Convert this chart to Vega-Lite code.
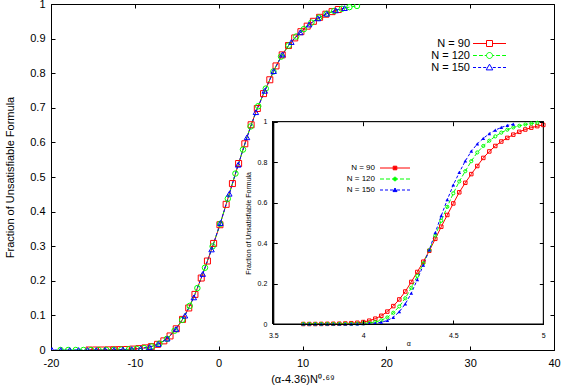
{
"$schema": "https://vega.github.io/schema/vega-lite/v6.json",
"width": 503, "height": 346,
"autosize": {"type": "none"},
"padding": {"left": 51, "top": 4, "right": 8, "bottom": 36},
"background": "white",
"config": {
 "view": {"stroke": "black", "strokeWidth": 1},
 "axis": {"grid": false, "domainColor": "black", "tickColor": "black", "labelColor": "black", "titleColor": "black", "labelFont": "Liberation Sans", "titleFont": "Liberation Sans", "titleFontWeight": "normal", "labelFlush": false, "labelOverlap": false, "tickSize": -4, "domainWidth": 1, "tickWidth": 1},
 "legend": {"padding": 0, "labelFont": "Liberation Sans", "labelColor": "black", "symbolStrokeWidth": 1, "labelAlign": "right"}
},
"datasets": {"d": [
{"N":"N = 90","a":3.6667,"x":-15.47,"f":0},{"N":"N = 90","a":3.7,"x":-14.72,"f":0},{"N":"N = 90","a":3.7333,"x":-13.98,"f":0},{"N":"N = 90","a":3.7667,"x":-13.23,"f":0.0004},{"N":"N = 90","a":3.8,"x":-12.49,"f":0.0008},{"N":"N = 90","a":3.8333,"x":-11.75,"f":0.0011},{"N":"N = 90","a":3.8667,"x":-11.0,"f":0.0015},{"N":"N = 90","a":3.9,"x":-10.26,"f":0.0026},{"N":"N = 90","a":3.9333,"x":-9.52,"f":0.004},{"N":"N = 90","a":3.9667,"x":-8.78,"f":0.0061},{"N":"N = 90","a":4.0,"x":-8.03,"f":0.0097},{"N":"N = 90","a":4.0333,"x":-7.29,"f":0.0164},{"N":"N = 90","a":4.0667,"x":-6.54,"f":0.0264},{"N":"N = 90","a":4.1,"x":-5.8,"f":0.0406},{"N":"N = 90","a":4.1333,"x":-5.06,"f":0.0613},{"N":"N = 90","a":4.1667,"x":-4.31,"f":0.0885},{"N":"N = 90","a":4.2,"x":-3.57,"f":0.1215},{"N":"N = 90","a":4.2333,"x":-2.83,"f":0.1607},{"N":"N = 90","a":4.2667,"x":-2.08,"f":0.208},{"N":"N = 90","a":4.3,"x":-1.34,"f":0.2572},{"N":"N = 90","a":4.3333,"x":-0.6,"f":0.308},{"N":"N = 90","a":4.3667,"x":0.15,"f":0.362},{"N":"N = 90","a":4.4,"x":0.89,"f":0.421},{"N":"N = 90","a":4.4333,"x":1.64,"f":0.481},{"N":"N = 90","a":4.4667,"x":2.38,"f":0.539},{"N":"N = 90","a":4.5,"x":3.12,"f":0.596},{"N":"N = 90","a":4.5333,"x":3.87,"f":0.651},{"N":"N = 90","a":4.5667,"x":4.61,"f":0.698},{"N":"N = 90","a":4.6,"x":5.35,"f":0.741},{"N":"N = 90","a":4.6333,"x":6.1,"f":0.781},{"N":"N = 90","a":4.6667,"x":6.84,"f":0.821},{"N":"N = 90","a":4.7,"x":7.58,"f":0.853},{"N":"N = 90","a":4.7333,"x":8.33,"f":0.88},{"N":"N = 90","a":4.7667,"x":9.07,"f":0.902},{"N":"N = 90","a":4.8,"x":9.81,"f":0.92},{"N":"N = 90","a":4.8333,"x":10.56,"f":0.936},{"N":"N = 90","a":4.8667,"x":11.3,"f":0.95},{"N":"N = 90","a":4.9,"x":12.04,"f":0.9615},{"N":"N = 90","a":4.9333,"x":12.79,"f":0.9705},{"N":"N = 90","a":4.9667,"x":13.53,"f":0.978},{"N":"N = 90","a":5.0,"x":14.27,"f":0.984},
{"N":"N = 120","a":3.6667,"x":-18.86,"f":0},{"N":"N = 120","a":3.7,"x":-17.95,"f":0},{"N":"N = 120","a":3.7333,"x":-17.05,"f":0},{"N":"N = 120","a":3.7667,"x":-16.14,"f":0},{"N":"N = 120","a":3.8,"x":-15.23,"f":0},{"N":"N = 120","a":3.8333,"x":-14.33,"f":0},{"N":"N = 120","a":3.8667,"x":-13.42,"f":0.0003},{"N":"N = 120","a":3.9,"x":-12.51,"f":0.0007},{"N":"N = 120","a":3.9333,"x":-11.61,"f":0.0012},{"N":"N = 120","a":3.9667,"x":-10.7,"f":0.002},{"N":"N = 120","a":4.0,"x":-9.79,"f":0.0034},{"N":"N = 120","a":4.0333,"x":-8.89,"f":0.0055},{"N":"N = 120","a":4.0667,"x":-7.98,"f":0.0102},{"N":"N = 120","a":4.1,"x":-7.07,"f":0.0184},{"N":"N = 120","a":4.1333,"x":-6.17,"f":0.0323},{"N":"N = 120","a":4.1667,"x":-5.26,"f":0.0557},{"N":"N = 120","a":4.2,"x":-4.35,"f":0.087},{"N":"N = 120","a":4.2333,"x":-3.45,"f":0.1275},{"N":"N = 120","a":4.2667,"x":-2.54,"f":0.179},{"N":"N = 120","a":4.3,"x":-1.63,"f":0.2378},{"N":"N = 120","a":4.3333,"x":-0.72,"f":0.2996},{"N":"N = 120","a":4.3667,"x":0.18,"f":0.3644},{"N":"N = 120","a":4.4,"x":1.09,"f":0.4372},{"N":"N = 120","a":4.4333,"x":2.0,"f":0.51},{"N":"N = 120","a":4.4667,"x":2.9,"f":0.5793},{"N":"N = 120","a":4.5,"x":3.81,"f":0.646},{"N":"N = 120","a":4.5333,"x":4.72,"f":0.7047},{"N":"N = 120","a":4.5667,"x":5.62,"f":0.7555},{"N":"N = 120","a":4.6,"x":6.53,"f":0.805},{"N":"N = 120","a":4.6333,"x":7.44,"f":0.848},{"N":"N = 120","a":4.6667,"x":8.34,"f":0.88},{"N":"N = 120","a":4.7,"x":9.25,"f":0.906},{"N":"N = 120","a":4.7333,"x":10.16,"f":0.9274},{"N":"N = 120","a":4.7667,"x":11.06,"f":0.946},{"N":"N = 120","a":4.8,"x":11.97,"f":0.9605},{"N":"N = 120","a":4.8333,"x":12.88,"f":0.9716},{"N":"N = 120","a":4.8667,"x":13.78,"f":0.98},{"N":"N = 120","a":4.9,"x":14.69,"f":0.9861},{"N":"N = 120","a":4.9333,"x":15.6,"f":0.991},{"N":"N = 120","a":4.9667,"x":16.5,"f":0.9945},
{"N":"N = 150","a":3.6667,"x":-22.0,"f":0},{"N":"N = 150","a":3.7,"x":-20.94,"f":0},{"N":"N = 150","a":3.7333,"x":-19.88,"f":0},{"N":"N = 150","a":3.7667,"x":-18.83,"f":0},{"N":"N = 150","a":3.8,"x":-17.77,"f":0},{"N":"N = 150","a":3.8333,"x":-16.71,"f":0},{"N":"N = 150","a":3.8667,"x":-15.65,"f":0},{"N":"N = 150","a":3.9,"x":-14.6,"f":0},{"N":"N = 150","a":3.9333,"x":-13.54,"f":0.0002},{"N":"N = 150","a":3.9667,"x":-12.48,"f":0.0008},{"N":"N = 150","a":4.0,"x":-11.42,"f":0.0013},{"N":"N = 150","a":4.0333,"x":-10.37,"f":0.0025},{"N":"N = 150","a":4.0667,"x":-9.31,"f":0.0044},{"N":"N = 150","a":4.1,"x":-8.25,"f":0.0087},{"N":"N = 150","a":4.1333,"x":-7.19,"f":0.0173},{"N":"N = 150","a":4.1667,"x":-6.13,"f":0.0329},{"N":"N = 150","a":4.2,"x":-5.08,"f":0.0608},{"N":"N = 150","a":4.2333,"x":-4.02,"f":0.0993},{"N":"N = 150","a":4.2667,"x":-2.96,"f":0.152},{"N":"N = 150","a":4.3,"x":-1.9,"f":0.2197},{"N":"N = 150","a":4.3333,"x":-0.85,"f":0.2905},{"N":"N = 150","a":4.3667,"x":0.21,"f":0.3668},{"N":"N = 150","a":4.4,"x":1.27,"f":0.4516},{"N":"N = 150","a":4.4333,"x":2.33,"f":0.5354},{"N":"N = 150","a":4.4667,"x":3.38,"f":0.6147},{"N":"N = 150","a":4.5,"x":4.44,"f":0.6873},{"N":"N = 150","a":4.5333,"x":5.5,"f":0.749},{"N":"N = 150","a":4.5667,"x":6.56,"f":0.806},{"N":"N = 150","a":4.6,"x":7.61,"f":0.854},{"N":"N = 150","a":4.6333,"x":8.67,"f":0.89},{"N":"N = 150","a":4.6667,"x":9.73,"f":0.918},{"N":"N = 150","a":4.7,"x":10.79,"f":0.9406},{"N":"N = 150","a":4.7333,"x":11.84,"f":0.9584},{"N":"N = 150","a":4.7667,"x":12.9,"f":0.9718},{"N":"N = 150","a":4.8,"x":13.96,"f":0.9816},{"N":"N = 150","a":4.8333,"x":15.02,"f":0.9881}
]},
"layer": [
 {
  "data": {"name": "d"},
  "encoding": {
   "x": {"field": "x", "type": "quantitative", "scale": {"domain": [-20, 40], "nice": false, "zero": false},
     "axis": {"orient": "bottom", "values": [-20,-10,0,10,20,30,40], "labelExpr": "'' + datum.value", "labelFontSize": 11, "labelPadding": 11, "title": "(α-4.36)N⁰·⁶⁹", "titleFontSize": 11, "titlePadding": 5}},
   "y": {"field": "f", "type": "quantitative", "scale": {"domain": [0, 1], "nice": false},
     "axis": {"orient": "left", "values": [0,0.1,0.2,0.3,0.4,0.5,0.6,0.7,0.8,0.9,1], "format": "~g", "labelFontSize": 11, "labelPadding": 10, "title": "Fraction of Unsatisfiable Formula", "titleFontSize": 11, "titlePadding": 14}},
   "color": {"field": "N", "type": "nominal", "scale": {"domain": ["N = 90", "N = 120", "N = 150"], "range": ["#ff0000", "#00ff00", "#0000ff"]},
     "legend": {"orient": "none", "legendX": 433, "legendY": 34, "title": null, "labelFontSize": 11, "symbolSize": 36, "rowPadding": 0, "labelOffset": -25, "symbolFillColor": "transparent", "symbolStrokeWidth": 1,
       "symbolType": {"expr": "datum.value === 'N = 90' ? 'M-5.5,0H-1M1,0H5.5M-1,-1H1V1H-1Z' : datum.value === 'N = 120' ? 'M-5.5,0H-4.2M-3.5,0H-2.2M-1.6,0H-1M1,0H1.6M2.2,0H3.5M4.2,0H5.5M1,0A1,1 0 1,1 -1,0A1,1 0 1,1 1,0Z' : 'M-5.5,0H-4.5M-3.8,0H-2.8M-2.1,0H-1.1M1.1,0H2.1M2.8,0H3.8M4.5,0H5.5M0,-1.1L1.1,0.8H-1.1Z'"}}}
  },
  "layer": [
   {"transform": [{"filter": "datum.N === 'N = 90'"}], "mark": {"type": "line", "clip": true, "strokeWidth": 1}},
   {"transform": [{"filter": "datum.N === 'N = 120'"}], "mark": {"type": "line", "clip": true, "strokeWidth": 1, "strokeDash": [4, 2]}},
   {"transform": [{"filter": "datum.N === 'N = 150'"}], "mark": {"type": "line", "clip": true, "strokeWidth": 1, "strokeDash": [3, 2]}},
   {"transform": [{"filter": "datum.N === 'N = 90'"}], "mark": {"type": "point", "shape": "square", "clip": true, "filled": false, "size": 36, "strokeWidth": 1, "opacity": 1}},
   {"transform": [{"filter": "datum.N === 'N = 120'"}], "mark": {"type": "point", "shape": "circle", "clip": true, "filled": false, "size": 30, "strokeWidth": 1, "opacity": 1}},
   {"transform": [{"filter": "datum.N === 'N = 150'"}], "mark": {"type": "point", "shape": "triangle-up", "clip": true, "filled": false, "size": 30, "strokeWidth": 1, "opacity": 1}}
  ]
 },
 {
  "data": {"name": "d"},
  "mark": {"type": "point", "opacity": 0},
  "encoding": {
   "x": {"field": "x", "type": "quantitative", "scale": {"domain": [-20, 40], "nice": false, "zero": false},
     "axis": {"orient": "top", "values": [-20,-10,0,10,20,30,40], "labels": false, "domain": false, "title": null}},
   "y": {"field": "f", "type": "quantitative", "scale": {"domain": [0, 1], "nice": false},
     "axis": {"orient": "right", "values": [0,0.1,0.2,0.3,0.4,0.5,0.6,0.7,0.8,0.9,1], "labels": false, "domain": false, "title": null}}
  }
 },
 {
  "data": {"name": "d"},
  "layer": [
   {"mark": {"type": "rect", "fill": "white", "stroke": "black", "strokeWidth": 1},
    "encoding": {
     "x": {"datum": 3.5, "type": "quantitative", "scale": {"domain": [3.5, 5], "range": [222.3, 492.3], "nice": false, "zero": false},
       "axis": {"orient": "bottom", "offset": -26, "zindex": 1, "values": [3.5,4,4.5,5], "labelExpr": "'' + datum.value", "labelFontSize": 7, "labelPadding": 11, "title": "α", "titleFontSize": 7, "titlePadding": 1}},
     "x2": {"datum": 5},
     "y": {"datum": 0, "type": "quantitative", "scale": {"domain": [0, 1], "range": [320, 117.7], "nice": false},
       "axis": {"orient": "left", "offset": -222.3, "zindex": 1, "values": [0,0.2,0.4,0.6,0.8,1], "format": "~g", "labelFontSize": 7, "labelPadding": 10.5, "title": "Fraction of Unsatisfiable Formula", "titleFontSize": 7, "titlePadding": 6}},
     "y2": {"datum": 1}
    }},
   {
    "encoding": {
     "x": {"field": "a", "type": "quantitative", "scale": {"domain": [3.5, 5], "range": [222.3, 492.3], "nice": false, "zero": false}},
     "y": {"field": "f", "type": "quantitative", "scale": {"domain": [0, 1], "range": [320, 117.7], "nice": false}},
     "color": {"field": "N", "type": "nominal", "scale": {"domain": ["N = 90", "N = 120", "N = 150"], "range": ["#ff0000", "#00ff00", "#0000ff"]},
       "legend": {"orient": "none", "legendX": 340, "legendY": 160, "title": null, "labelFontSize": 8, "symbolSize": 16, "rowPadding": 3, "labelOffset": -24, "symbolStrokeWidth": 1,
         "symbolFillColor": {"expr": "datum.value === 'N = 90' ? 'transparent' : datum.value === 'N = 120' ? '#00ff00' : '#0000ff'"},
         "symbolType": {"expr": "datum.value === 'N = 90' ? 'M-7.5,0H-0.9M0.9,0H7.5M-0.9,-0.9H0.9V0.9H-0.9Z' : datum.value === 'N = 120' ? 'M-7.5,0H-5.5M-4.5,0H-2.5M-1.5,0H-0.9M0.9,0H1.5M2.5,0H4.5M5.5,0H7.5M0.9,0A0.9,0.9 0 1,1 -0.9,0A0.9,0.9 0 1,1 0.9,0Z' : 'M-7.5,0H-6M-5,0H-3.5M-2.5,0H-1M1,0H2.5M3.5,0H5M6,0H7.5M0,-1L1,0.8H-1Z'"}}}
    },
    "layer": [
     {"transform": [{"filter": "datum.N === 'N = 90'"}], "mark": {"type": "line", "strokeWidth": 1}},
     {"transform": [{"filter": "datum.N === 'N = 120'"}], "mark": {"type": "line", "strokeWidth": 1, "strokeDash": [4, 2]}},
     {"transform": [{"filter": "datum.N === 'N = 150'"}], "mark": {"type": "line", "strokeWidth": 1, "strokeDash": [3, 2]}},
     {"transform": [{"filter": "datum.N === 'N = 90'"}], "mark": {"type": "point", "shape": "square", "filled": false, "size": 12, "strokeWidth": 1, "opacity": 1}},
     {"transform": [{"filter": "datum.N === 'N = 120'"}], "mark": {"type": "point", "shape": "circle", "filled": false, "size": 10, "strokeWidth": 1, "opacity": 1}},
     {"transform": [{"filter": "datum.N === 'N = 150'"}], "mark": {"type": "point", "shape": "triangle-up", "filled": true, "size": 14, "opacity": 1}}
    ]
   }
  ]
 },
 {
  "data": {"name": "d"},
  "mark": {"type": "point", "opacity": 0},
  "encoding": {
   "x": {"field": "a", "type": "quantitative", "scale": {"domain": [3.5, 5], "range": [222.3, 492.3], "nice": false, "zero": false},
     "axis": {"orient": "top", "offset": -117.7, "zindex": 1, "values": [3.5,4,4.5,5], "labels": false, "domain": false, "title": null}},
   "y": {"field": "f", "type": "quantitative", "scale": {"domain": [0, 1], "range": [320, 117.7], "nice": false},
     "axis": {"orient": "right", "offset": -10.7, "zindex": 1, "values": [0,0.2,0.4,0.6,0.8,1], "labels": false, "domain": false, "title": null}}
  }
 }
],
"resolve": {"scale": {"x": "independent", "y": "independent", "color": "independent"}, "legend": {"color": "independent"}}
}
